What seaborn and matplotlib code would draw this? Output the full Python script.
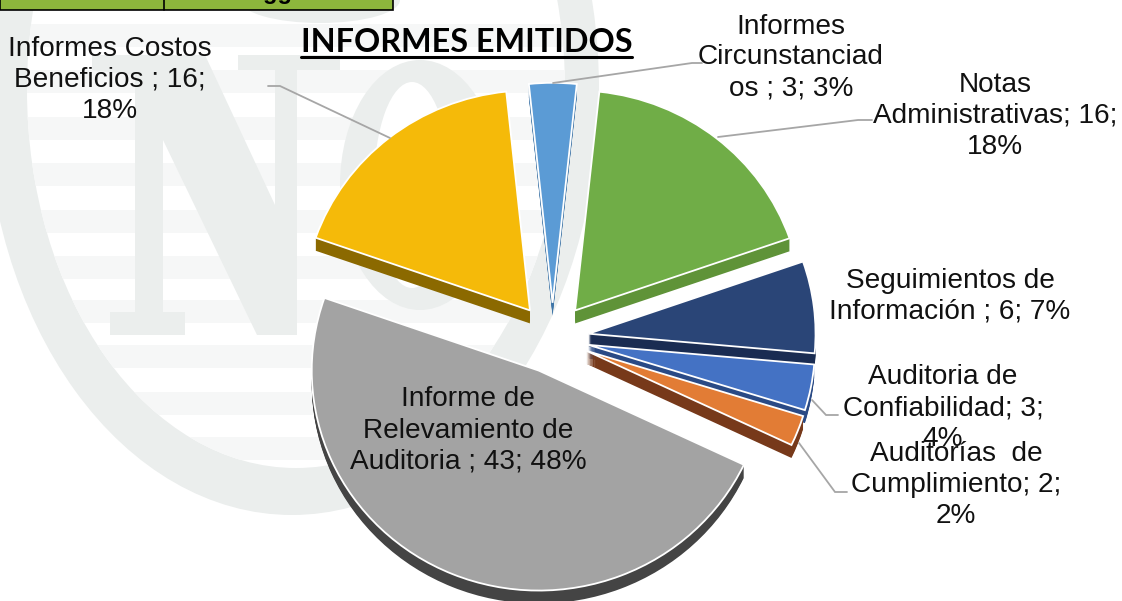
import numpy as np
import matplotlib
matplotlib.use("Agg")
import matplotlib.pyplot as plt
from matplotlib.patches import Ellipse, Polygon, Rectangle
import seaborn as sns

# slices, clockwise starting from the small blue one at the top
categories = ["Informes Circunstanciados", "Notas Administrativas", "Seguimientos de Información",
              "Auditoria de Confiabilidad", "Auditorías de Cumplimiento",
              "Informe de Relevamiento de Auditoria", "Informes Costos Beneficios"]
counts = [3, 16, 6, 3, 2, 43, 16]
top_colors = ["#5B9BD5", "#70AD47", "#2A4577", "#4472C4", "#E27C35", "#A3A3A3", "#F5BA09"]
side_colors = ["#3E75A8", "#5F9338", "#1A2C52", "#2A4A85", "#77391A", "#444444", "#8B6900"]

labels = ["Informes\nCircunstanciad\nos ; 3; 3%",
          "Notas\nAdministrativas; 16;\n18%",
          "Seguimientos de\nInformación ; 6; 7%",
          "Auditoria de\nConfiabilidad; 3;\n4%",
          "Auditorías  de\nCumplimiento; 2;\n2%",
          "Informe de\nRelevamiento de\nAuditoria ; 43; 48%",
          "Informes Costos\nBeneficios ; 16;\n18%"]
title = "INFORMES EMITIDOS"

W, H = 1122, 601
sns.set_theme(style="white")
plt.rcParams['font.family'] = ['Liberation Sans', 'DejaVu Sans']

fig = plt.figure(figsize=(W / 100, H / 100), dpi=100, facecolor="white")


def pixel_axes(z):
    a = fig.add_axes([0, 0, 1, 1], zorder=z)
    a.set_xlim(0, W)
    a.set_ylim(H, 0)
    a.axis("off")
    return a


# watermark behind the chart
bg = pixel_axes(0)
mark = "#EBEEED"
stripe = "#F6F7F7"
inner = Ellipse((296, 90), 538, 756, fc="white", ec="none", zorder=1)
bg.add_patch(Ellipse((292, 90), 614, 850, fc=mark, ec="none", zorder=0))
bg.add_patch(inner)
for top in [24, 70, 117, 163, 210, 256, 300, 345, 392, 437]:
    r = Rectangle((0, top), W, 23, fc=stripe, ec="none", zorder=2)
    bg.add_patch(r)
    r.set_clip_path(inner)
bg.add_patch(Ellipse((320, 0), 160, 46, fc=mark, ec="none", zorder=3))
bg.add_patch(Polygon([(92, 55), (205, 55), (275, 205), (275, 70), (238, 70), (238, 55), (340, 55), (340, 70),
                      (297, 70), (297, 335), (257, 335), (163, 140), (163, 312), (185, 312), (185, 335),
                      (110, 335), (110, 312), (135, 312), (135, 75), (92, 70)],
                     fc=mark, ec="none", zorder=3))
bg.add_patch(Ellipse((420, 185), 160, 250, fc=mark, ec="none", zorder=3))
bg.add_patch(Ellipse((412, 185), 76, 206, fc="white", ec="none", zorder=4))

# table cut off at the top of the page
bg.add_patch(Rectangle((0, -5), 393, 15, fc="#8DB63C", ec="black", lw=1.2, zorder=5))
bg.plot([164, 164], [0, 10], color="black", lw=1.2, zorder=6)
bg.text(278, -1, "gg", ha="center", va="baseline", fontsize=17, fontweight="bold", color="black", zorder=6)

# pie, with dark copies underneath to get the 3D edge
ax = fig.add_axes([0, 0, 1, 1], zorder=1)
ax.patch.set_alpha(0)
rx, ry = 227, 220
cx, cy = 552.5, 338
explode = [0.16] * len(counts)
depth = 13

for d in range(depth, 0, -1):
    ax.pie(counts, explode=explode, colors=sns.color_palette(side_colors), startangle=96, counterclock=False,
           center=(0, -d / ry), wedgeprops={"linewidth": 0})
ax.pie(counts, explode=explode, colors=sns.color_palette(top_colors), startangle=96, counterclock=False,
       wedgeprops={"linewidth": 1.3, "edgecolor": "white"})
ax.set_aspect("auto")
ax.set_xlim(-cx / rx, (W - cx) / rx)
ax.set_ylim((cy - H) / ry, cy / ry)
ax.axis("off")

# text and leader lines on top
fg = pixel_axes(2)
fg.patch.set_alpha(0)

label_pos = [(791, 57.5), (995, 115.5), (950, 296.5), (943, 408.5), (956, 485), (468, 430.5), (110, 79.5)]
for lab, (x, y) in zip(labels, label_pos):
    fg.text(x, y, lab, ha="center", va="center", fontsize=20.2, color="#111111", linespacing=1.25)

leaders = [[(553, 83), (692, 63), (702, 63)],
           [(718, 137), (858, 120), (872, 120)],
           [(812, 400), (826, 415), (838, 415)],
           [(799, 443), (835, 492), (847, 492)],
           [(390, 138), (280, 86), (268, 86)]]
for pts in leaders:
    xs, ys = zip(*pts)
    fg.plot(xs, ys, color="#A6A6A6", lw=1.3, solid_joinstyle="miter")

fg.text(466.5, 43, title, ha="center", va="center", fontsize=23.3, fontweight="bold",
        family=["Lato", "DejaVu Sans"], color="black")
fg.plot([301, 632], [57, 57], color="black", lw=2.2)

fig.savefig("out.png", dpi=100)
